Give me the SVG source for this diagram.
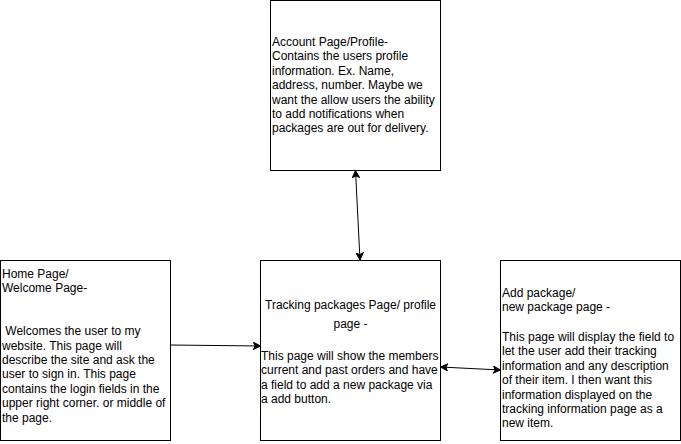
<svg xmlns="http://www.w3.org/2000/svg" width="681" height="444" viewBox="0 0 681 444">
<style>
.box{fill:#ffffff;stroke:#000000;stroke-width:1}
.t{font-family:"Liberation Sans",Arial,Helvetica,sans-serif;font-size:12px;fill:#000000}
.c{text-anchor:middle}
.edge{fill:none;stroke:#000000;stroke-width:1}
</style>
<defs>
<marker id="arr" markerUnits="userSpaceOnUse" markerWidth="8" markerHeight="8" viewBox="0 0 8 8" refX="7.5" refY="4" orient="auto-start-reverse">
<path d="M0.5,0.5 L7.5,4 L0.5,7.5 L2.25,4 Z" fill="#000000" stroke="#000000" stroke-width="1"/>
</marker>
</defs>
<rect width="681" height="444" fill="#ffffff"/>
<g id="connectors">
<path class="edge" d="M355.5,170.5 L360,260" marker-start="url(#arr)" marker-end="url(#arr)"/>
<path class="edge" d="M440.5,367 L500.5,370" marker-start="url(#arr)" marker-end="url(#arr)"/>
<path class="edge" d="M170.5,345 L260.5,346" marker-end="url(#arr)"/>
</g>
<g id="account">
<rect class="box" x="270.5" y="0.5" width="170" height="170"/>
<text class="t" x="272" y="46">Account Page/Profile-</text>
<text class="t" x="272" y="60.4">Contains the users profile</text>
<text class="t" x="272" y="74.8">information. Ex. Name,</text>
<text class="t" x="272" y="89.2">address, number. Maybe we</text>
<text class="t" x="272" y="103.6">want the allow users the ability</text>
<text class="t" x="272" y="118">to add notifications when</text>
<text class="t" x="272" y="132.4">packages are out for delivery.</text>
</g>
<g id="home">
<rect class="box" x="0.5" y="260.5" width="170" height="180"/>
<text class="t" x="2" y="277.5">Home Page/</text>
<text class="t" x="2" y="291.9">Welcome Page-</text>
<text class="t" x="2" y="335.1" xml:space="preserve"> Welcomes the user to my</text>
<text class="t" x="2" y="349.5">website. This page will</text>
<text class="t" x="2" y="363.9">describe the site and ask the</text>
<text class="t" x="2" y="378.3">user to sign in. This page</text>
<text class="t" x="2" y="392.7">contains the login fields in the</text>
<text class="t" x="2" y="407.1">upper right corner. or middle of</text>
<text class="t" x="2" y="421.5">the page.</text>
</g>
<g id="tracking">
<rect class="box" x="260.5" y="260.5" width="180" height="180"/>
<text class="t c" x="350.5" y="309">Tracking packages Page/ profile</text>
<text class="t c" x="350.5" y="328">page -</text>
<text class="t" x="261" y="360">This page will show the members</text>
<text class="t" x="261" y="374.4">current and past orders and have</text>
<text class="t" x="261" y="388.8">a field to add a new package via</text>
<text class="t" x="261" y="403.2">a add button.</text>
</g>
<g id="addpackage">
<rect class="box" x="500.5" y="260.5" width="180" height="180"/>
<text class="t" x="502" y="297">Add package/</text>
<text class="t" x="502" y="311.4">new package page -</text>
<text class="t" x="502" y="341">This page will display the field to</text>
<text class="t" x="502" y="355.4">let the user add their tracking</text>
<text class="t" x="502" y="369.8">information and any description</text>
<text class="t" x="502" y="384.2">of their item. I then want this</text>
<text class="t" x="502" y="398.6">information displayed on the</text>
<text class="t" x="502" y="413">tracking information page as a</text>
<text class="t" x="502" y="427.4">new item.</text>
</g>
</svg>
